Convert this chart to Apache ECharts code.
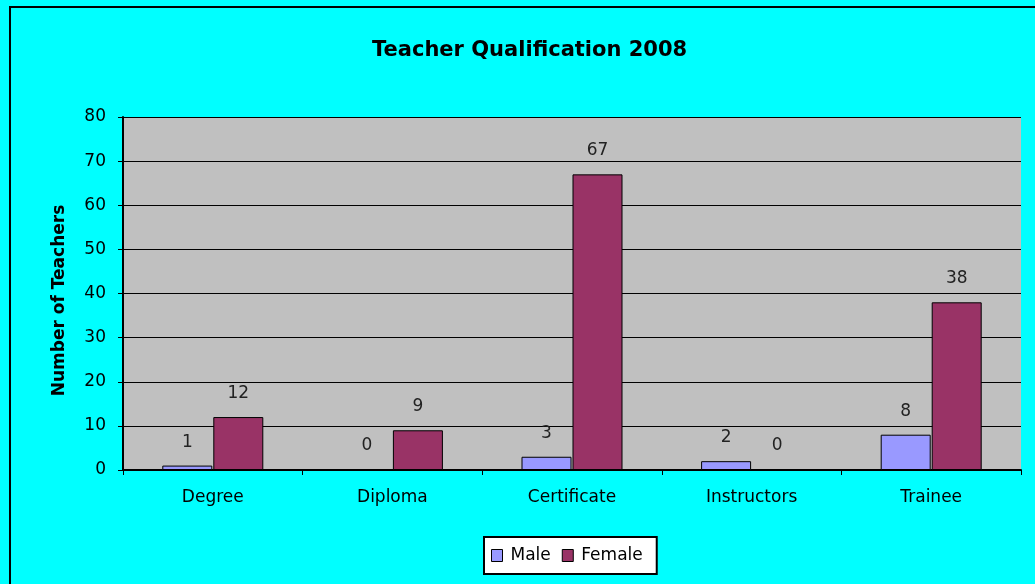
<!DOCTYPE html>
<html>
<head>
<meta charset="utf-8">
<script src="https://cdn.jsdelivr.net/npm/echarts@6/dist/echarts.min.js"></script>
<style>
  html, body { margin: 0; padding: 0; background: #00ffff; }
  #chart { width: 1035px; height: 584px; }
</style>
</head>
<body>
<div id="chart"></div>
<script>
const categories = ["Degree", "Diploma", "Certificate", "Instructors", "Trainee"];
const maleValues = [1, 0, 3, 2, 8];
const femaleValues = [12, 9, 67, 0, 38];
const yTicks = [0, 10, 20, 30, 40, 50, 60, 70, 80];

const chart = echarts.init(document.getElementById("chart"));
const font = "'DejaVu Sans', sans-serif";

const labelStyle = {
  show: true,
  position: "top",
  distance: 15,
  color: "#222",
  fontFamily: font,
  fontSize: 17,
};

const options = {
  backgroundColor: "#00ffff",
  textStyle: { fontFamily: font },
  graphic: [
    {
      type: "rect",
      shape: { x: 10, y: 7, width: 1100, height: 700 },
      style: { fill: "none", stroke: "#000", lineWidth: 2 },
      silent: true,
    },
  ],
  title: {
    text: "Teacher Qualification 2008",
    left: 367,
    top: 35,
    textStyle: { fontSize: 21, fontWeight: "bold", color: "#000", fontFamily: font },
  },
  legend: {
    left: 484,
    top: 537,
    padding: [10, 14, 10, 7],
    backgroundColor: "#fff",
    borderColor: "#000",
    borderWidth: 2,
    itemWidth: 11,
    itemHeight: 12,
    itemGap: 11,
    icon: "rect",
    itemStyle: { borderColor: "#000", borderWidth: 1 },
    textStyle: { fontSize: 17, color: "#000", fontFamily: font, padding: [0, 0, 0, 3] },
    data: ["Male", "Female"],
  },
  grid: {
    left: 123,
    right: 14,
    top: 117,
    bottom: 114,
    show: true,
    backgroundColor: "#c0c0c0",
    borderWidth: 0,
  },
  xAxis: {
    type: "category",
    data: categories,
    axisLine: { lineStyle: { color: "#000", width: 2 } },
    axisTick: { show: true, length: 5, lineStyle: { color: "#000" } },
    axisLabel: { margin: 19, fontSize: 17, color: "#000", fontFamily: font },
  },
  yAxis: {
    type: "value",
    min: yTicks[0],
    max: yTicks[yTicks.length - 1],
    interval: 10,
    name: "Number of Teachers",
    nameLocation: "middle",
    nameGap: 55,
    nameTextStyle: {
      fontSize: 17,
      fontWeight: "bold",
      color: "#000",
      fontFamily: font,
      padding: [0, 14, 0, 0],
    },
    axisLine: { show: true, lineStyle: { color: "#000", width: 2 } },
    axisTick: { show: true, length: 5, lineStyle: { color: "#000" } },
    axisLabel: { margin: 17, fontSize: 17, color: "#000", fontFamily: font },
    splitLine: { show: true, lineStyle: { color: "#000", width: 1 } },
  },
  series: [
    {
      name: "Male",
      type: "bar",
      data: maleValues,
      barWidth: 50,
      barGap: "2%",
      itemStyle: { color: "#9999ff", borderColor: "#000", borderWidth: 1 },
      label: labelStyle,
    },
    {
      name: "Female",
      type: "bar",
      data: femaleValues,
      barWidth: 50,
      itemStyle: { color: "#993366", borderColor: "#000", borderWidth: 1 },
      label: labelStyle,
    },
  ],
};

chart.setOption(options);
</script>
</body>
</html>
